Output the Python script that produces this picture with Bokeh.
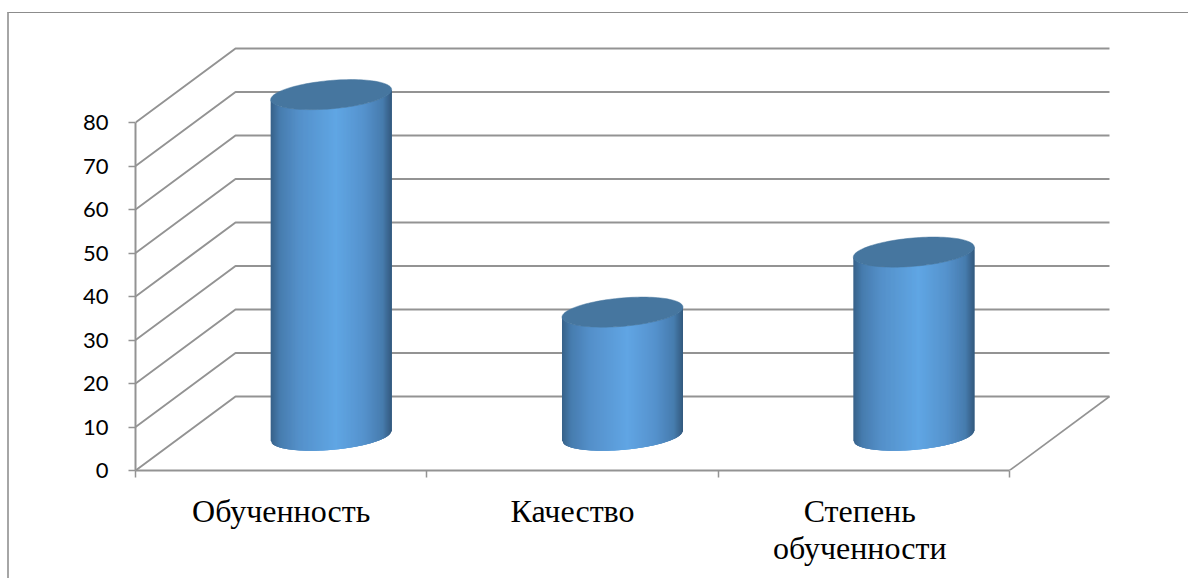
from bokeh.plotting import figure
from bokeh.models import Range1d, FixedTicker, LinearAxis, InlineStyleSheet
from bokeh.embed import file_html
from bokeh.resources import INLINE
import numpy as np

categories = ["Обученность", "Качество", "Степень"]
second_line = ["обученности"]
values = [78.4, 28.4, 42.2]
y_ticks = [0, 10, 20, 30, 40, 50, 60, 70, 80]

GREY = "#939393"
PX_X = 291.33
PX_Y = 4.35
DEPTH_X = 100 / PX_X
DEPTH_Y = 74 / PX_Y
N_CATS = len(categories)

p = figure(width=1188, height=578, output_backend="svg", toolbar_location=None,
           x_range=Range1d(0, 977 / PX_X), y_range=Range1d(0, 424 / PX_Y),
           min_border_left=135, min_border_right=76, min_border_top=46, min_border_bottom=108,
           x_axis_location=None, y_axis_location=None)
p.outline_line_color = None
p.grid.visible = False
p.background_fill_color = "white"
p.border_fill_color = "white"
p.stylesheets = [InlineStyleSheet(css="""
:host { position: relative; }
:host::after { content: ""; position: absolute; left: 7px; top: 12px; right: 0; bottom: 0;
  border-left: 2px solid #a6a6a6; border-top: 1px solid #8c8c8c; pointer-events: none; }
""")]

for v in y_ticks:
    p.line([0, DEPTH_X, N_CATS + DEPTH_X],
           [v, v + DEPTH_Y, v + DEPTH_Y], line_color=GREY, line_width=2)
p.line([N_CATS + DEPTH_X, N_CATS], [DEPTH_Y, 0], line_color=GREY, line_width=1.6)

A = 60.5 / PX_X
B = 14.2 / PX_Y
S = 5.0 / PX_Y
stops_u = [-1.0, -0.85, -0.55, 0.08, 0.55, 0.85, 1.0]
stops_c = [(0x37, 0x60, 0x89), (0x47, 0x7c, 0xae), (0x54, 0x90, 0xc9), (0x60, 0xa6, 0xe4),
           (0x55, 0x92, 0xcc), (0x47, 0x7c, 0xae), (0x33, 0x59, 0x7e)]
N = 121
OVERLAP = 2.0 / 60.5  # each slice runs 1 px under the next one, so no white shows at the seams

def shade(u):
    return "#%02x%02x%02x" % tuple(int(round(np.interp(u, stops_u, [c[i] for c in stops_c]))) for i in range(3))

def lower_edge(u, base):
    u = np.clip(u, -1, 1)
    return base - B * np.sqrt(1 - u ** 2) + S * u

xs, ys, cols = [], [], []
top_xs, top_ys = [], []
for i, val in enumerate(values):
    cx = i + 0.5 + DEPTH_X / 2
    base = DEPTH_Y / 2 - 0.5
    top = base + val
    edges = np.linspace(-1, 1, N + 1)
    for a, b in zip(edges[:-1], edges[1:]):
        b2 = min(b + OVERLAP, 1)
        xs.append([cx + a * A, cx + b2 * A, cx + b2 * A, cx + a * A])
        ys.append([lower_edge(a, base), lower_edge(b2, base), lower_edge(b2, top), lower_edge(a, top)])
        cols.append(shade((a + b) / 2))
    t = np.linspace(0, 2 * np.pi, 120)
    top_xs.append(list(cx + A * np.cos(t)))
    top_ys.append(list(top + B * np.sin(t) + S * np.cos(t)))
p.patches(xs, ys, fill_color=cols, fill_alpha=1.0, line_color=None)
p.patches(top_xs, top_ys, fill_color="#46769f", fill_alpha=1.0, line_color="#46769f", line_width=0.5)

yaxis = LinearAxis(bounds=(0, 80), ticker=FixedTicker(ticks=y_ticks))
yaxis.axis_line_color = GREY
yaxis.axis_line_width = 2
yaxis.major_tick_line_color = GREY
yaxis.major_tick_line_width = 1.5
yaxis.major_tick_out = 7
yaxis.major_tick_in = 0
yaxis.minor_tick_line_color = None
yaxis.major_label_standoff = 20
yaxis.major_label_text_font = "Lato"
yaxis.major_label_text_font_size = "22px"
yaxis.major_label_text_color = "black"
p.add_layout(yaxis, "left")

LAST_SHIFT = -0.014
centers = [c + 0.5 for c in range(N_CATS - 1)] + [N_CATS - 0.5 + LAST_SHIFT]
xaxis = LinearAxis(bounds=(0, N_CATS),
                   ticker=FixedTicker(ticks=centers, minor_ticks=list(range(N_CATS + 1))))
xaxis.major_label_overrides = {c: n for c, n in zip(centers, categories)}
xaxis.axis_line_color = GREY
xaxis.axis_line_width = 2
xaxis.major_tick_line_color = None
xaxis.minor_tick_line_color = GREY
xaxis.minor_tick_line_width = 1.5
xaxis.minor_tick_out = 7
xaxis.minor_tick_in = 0
xaxis.major_label_standoff = 15
xaxis.major_label_text_font = "Liberation Serif"
xaxis.major_label_text_font_size = "32px"
xaxis.major_label_text_color = "black"
p.add_layout(xaxis, "below")

xaxis2 = LinearAxis(ticker=FixedTicker(ticks=[centers[-1]]))
xaxis2.major_label_overrides = {centers[-1]: second_line[0]}
xaxis2.axis_line_color = None
xaxis2.major_tick_line_color = None
xaxis2.minor_tick_line_color = None
xaxis2.major_label_standoff = -8
xaxis2.major_label_text_font = "Liberation Serif"
xaxis2.major_label_text_font_size = "32px"
xaxis2.major_label_text_color = "black"
p.add_layout(xaxis2, "below")

open("out.html", "w").write(file_html(p, INLINE))
